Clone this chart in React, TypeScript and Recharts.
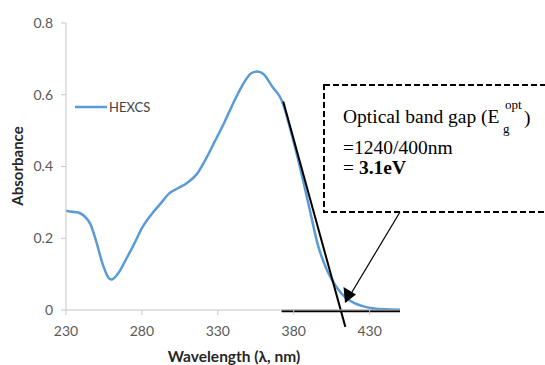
import React from "react";
import { LineChart, Line, XAxis, YAxis, ReferenceLine, Legend } from "recharts";

const wavelengths = [230, 234, 238, 242, 246, 250, 254, 258, 260, 264, 270, 275, 280, 286, 292, 298, 304, 310, 316, 322, 328, 334, 340, 346, 352, 356, 360, 366, 372, 378, 384, 390, 396, 402, 408, 414, 420, 426, 432, 440, 450];
const absorbance = [0.277, 0.274, 0.272, 0.262, 0.24, 0.19, 0.13, 0.09, 0.085, 0.1, 0.145, 0.185, 0.228, 0.265, 0.295, 0.325, 0.34, 0.355, 0.378, 0.42, 0.47, 0.52, 0.575, 0.625, 0.66, 0.665, 0.658, 0.622, 0.585, 0.5, 0.4, 0.29, 0.18, 0.11, 0.065, 0.035, 0.019, 0.01, 0.005, 0.002, 0.001];
const xTicks = [230, 280, 330, 380, 430];
const yTicks = [0, 0.2, 0.4, 0.6, 0.8];
const seriesName = "HEXCS";
const tangentLine = [{ x: 373.1, y: 0.581 }, { x: 414, y: -0.047 }];
const baseLine = [{ x: 372, y: -0.003 }, { x: 450, y: -0.003 }];

const data = wavelengths.map((w, i) => ({ wl: w, abs: absorbance[i] }));

const tickStyle = { fontFamily: "Lato", fontSize: 14, fill: "#595959" };

function LegendContent() {
  return (
    <svg width={90} height={20} style={{ overflow: "visible", display: "block" }}>
      <line x1={0} y1={10} x2={32} y2={10} stroke="#5B9BD5" strokeWidth={2.5} />
      <text x={34} y={10} dy="0.36em" fontFamily="Lato" fontSize={13} fill="#404040">{seriesName}</text>
    </svg>
  );
}

export default function App() {
  return (
    <div style={{ position: "relative", width: 545, height: 365, background: "#fff" }}>
      <style>{`body{margin:0}`}</style>
      <LineChart width={545} height={365} data={data} margin={{ top: 23, right: 145, bottom: 0, left: 0 }}>
        <XAxis
          dataKey="wl"
          type="number"
          domain={[230, 450]}
          ticks={xTicks}
          tick={tickStyle}
          tickSize={5}
          tickMargin={11}
          stroke="#c6c6c6"
          height={55}
          allowDataOverflow
          label={(props: any) => (
            <text x={234} y={362} textAnchor="middle" fontFamily="Lato" fontWeight="bold" fontSize={15.5} fill="#262626">
              Wavelength  (λ, nm)
            </text>
          )}
        />
        <YAxis
          type="number"
          domain={[0, 0.8]}
          ticks={yTicks}
          tick={tickStyle}
          tickFormatter={(v: number) => (v === 0 ? "0" : v.toFixed(1))}
          tickSize={5}
          tickMargin={8}
          stroke="#c6c6c6"
          width={66}
          label={(props: any) => (
            <text x={18} y={166} transform="rotate(-90 18 166)" textAnchor="middle" dy="0.36em" fontFamily="Lato" fontWeight="bold" fontSize={15} fill="#262626">
              Absorbance
            </text>
          )}
        />
        <Legend
          layout="horizontal"
          verticalAlign="middle"
          align="center"
          content={() => <LegendContent />}
          wrapperStyle={{ position: "absolute", left: 75, top: 97, width: 90, height: 20 }}
        />
        <Line
          dataKey="abs"
          name={seriesName}
          type="monotone"
          stroke="#5B9BD5"
          strokeWidth={2.5}
          dot={false}
          isAnimationActive={false}
        />
        <ReferenceLine segment={baseLine} stroke="#000" strokeWidth={2.5} ifOverflow="visible" />
        <ReferenceLine segment={tangentLine} stroke="#000" strokeWidth={2} ifOverflow="visible" />
      </LineChart>
      <svg width={545} height={365} style={{ position: "absolute", left: 0, top: 0, pointerEvents: "none" }}>
        <rect x={324} y={85} width={240} height={127} fill="#fff" stroke="#000" strokeWidth={2} strokeDasharray="6 3" />
        <g fontFamily="'Liberation Serif', 'Times New Roman', serif" fill="#000">
          <text x={343} y={123} fontSize={19.5}>Optical band gap (E</text>
          <text x={505} y={109} fontSize={13}>opt</text>
          <text x={503} y={133} fontSize={13}>g</text>
          <text x={524} y={124} fontSize={19.5}>)</text>
          <text x={343} y={154} fontSize={19.5}>=1240/400nm</text>
          <text x={343} y={174} fontSize={19.5}>= <tspan fontWeight="bold">3.1eV</tspan></text>
        </g>
        <line x1={400} y1={212} x2={346} y2={302} stroke="#000" strokeWidth={1.2} />
        <path d="M345,303 L343.5,287 L356,294.5 z" fill="#000" />
      </svg>
    </div>
  );
}
